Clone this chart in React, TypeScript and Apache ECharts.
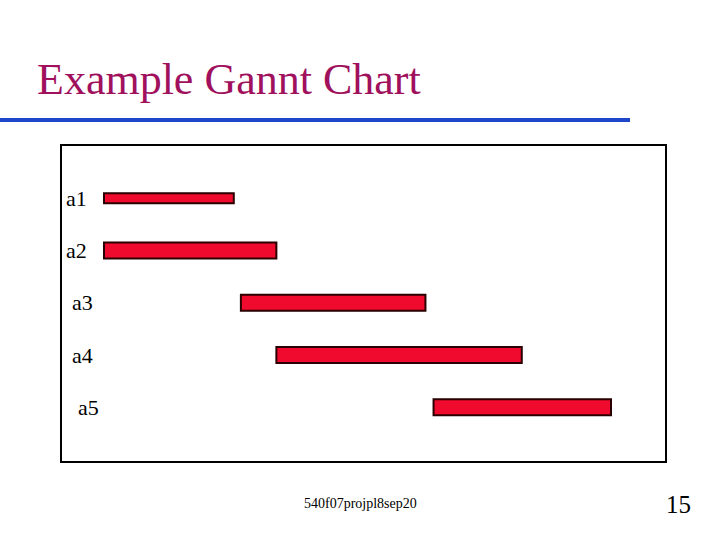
import React, { useEffect, useRef } from "react";
import * as echarts from "echarts";

const tasks = ["a1", "a2", "a3", "a4", "a5"];
const startValues = [0, 0, 13.5, 17, 32.5];
const endValues = [12.8, 17, 31.7, 41.2, 50];

const titleText = "Example Gannt Chart";
const footerText = "540f07projpl8sep20";
const pageNumber = "15";

const BAR_HEIGHTS = [10, 16, 16, 16, 16];
const LABEL_INDENT = [0, 0, 6, 6, 12];

const SERIF = "Liberation Serif";

export default function App() {
  const ref = useRef<HTMLDivElement>(null);
  useEffect(() => {
    if (!ref.current) return;
    const chart = echarts.init(ref.current, null, { renderer: "svg" });
    const data = tasks.map((t, i) => [i, startValues[i], endValues[i]]);
    const rich: any = {};
    LABEL_INDENT.forEach((p, i) => {
      rich["i" + i] = {
        padding: [0, 0, 0, p],
        fontFamily: SERIF,
        fontSize: 22,
        color: "#000",
      };
    });
    chart.setOption({
      animation: false,
      backgroundColor: "#fff",
      title: {
        text: titleText,
        left: 37,
        top: 57,
        padding: 0,
        textStyle: {
          fontFamily: SERIF,
          fontSize: 44,
          fontWeight: "normal",
          color: "#a0105c",
        },
      },
      grid: { left: 104, top: 172, width: 507, height: 261.5 },
      xAxis: {
        type: "value",
        min: 0,
        max: 50,
        show: false,
      },
      yAxis: {
        type: "category",
        data: tasks,
        inverse: true,
        axisLine: { show: false },
        axisTick: { show: false },
        splitLine: { show: false },
        axisLabel: {
          margin: 38,
          align: "left",
          fontFamily: SERIF,
          fontSize: 22,
          color: "#000",
          formatter: (v: string, i: number) => `{i${i}|${v}}`,
          rich,
        },
      },
      series: [
        {
          type: "custom",
          data,
          encode: { x: [1, 2], y: 0 },
          renderItem: (params: any, api: any) => {
            const cat = api.value(0);
            const p0 = api.coord([api.value(1), cat]);
            const p1 = api.coord([api.value(2), cat]);
            const h = BAR_HEIGHTS[params.dataIndex];
            return {
              type: "rect",
              shape: { x: p0[0], y: p0[1] - h / 2, width: p1[0] - p0[0], height: h },
              style: { fill: "#f00a2d", stroke: "#2a0000", lineWidth: 2 },
            };
          },
        },
      ],
      graphic: [
        {
          type: "rect",
          shape: { x: 0, y: 118, width: 630, height: 4 },
          style: { fill: "#1d46c8" },
        },
        {
          type: "rect",
          shape: { x: 61, y: 145, width: 605, height: 317 },
          style: { fill: "none", stroke: "#000", lineWidth: 2 },
        },
        {
          type: "text",
          x: 304,
          y: 503,
          style: {
            text: footerText,
            fontFamily: SERIF,
            fontSize: 14,
            fill: "#000",
            verticalAlign: "middle",
          },
        },
        {
          type: "text",
          x: 666,
          y: 504,
          style: {
            text: pageNumber,
            fontFamily: SERIF,
            fontSize: 25,
            fill: "#000",
            verticalAlign: "middle",
          },
        },
      ],
    });
    return () => chart.dispose();
  }, []);
  return (
    <div
      ref={ref}
      style={{ position: "absolute", left: 0, top: 0, width: 720, height: 540 }}
    />
  );
}
